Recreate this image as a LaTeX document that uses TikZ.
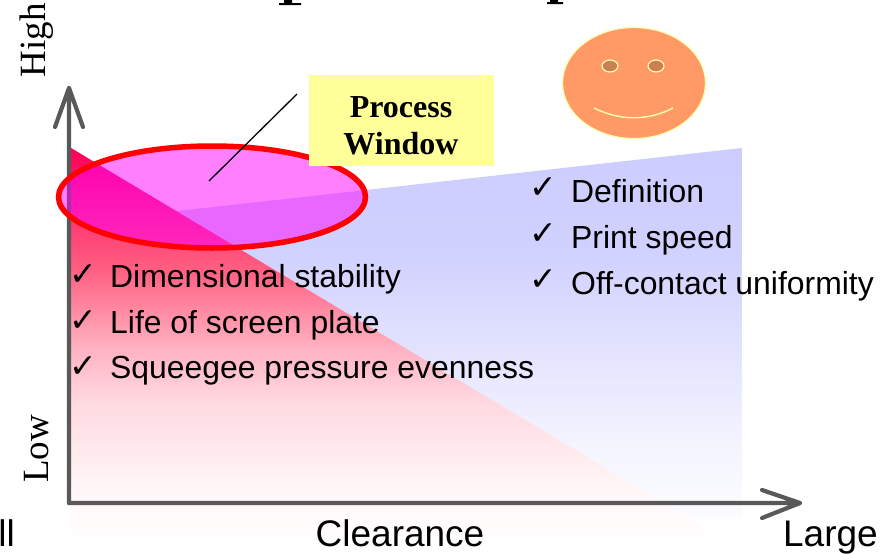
\documentclass[tikz,border=0pt]{standalone}
\usepackage{fontspec}
\setmainfont{Liberation Sans}
\newfontfamily\timesf{Liberation Serif}
\newfontfamily\checkf{DejaVu Sans}
\usetikzlibrary{shapes.geometric}
\definecolor{axisgray}{HTML}{595959}
\definecolor{calloutyellow}{HTML}{FFFF99}
\definecolor{faceorange}{HTML}{FF9966}
\definecolor{eyebrown}{HTML}{CC7F50}
\definecolor{faceedge}{HTML}{FFFFB0}
\definecolor{windowfill}{HTML}{FF00FF}
\definecolor{windowedge}{HTML}{FF0000}
\pgfdeclareverticalshading{redfade}{100bp}{
  color(0bp)=(white); color(25bp)=(white);
  color(33.2bp)=(rgb,255:red,255;green,244;blue,245);
  color(43.3bp)=(rgb,255:red,255;green,216;blue,224);
  color(50bp)=(rgb,255:red,255;green,176;blue,192);
  color(59.6bp)=(rgb,255:red,255;green,96;blue,130);
  color(75bp)=(rgb,255:red,255;green,0;blue,90);
  color(100bp)=(rgb,255:red,255;green,0;blue,90)}
\pgfdeclareverticalshading{bluefade}{100bp}{
  color(0bp)=(rgb,255:red,252;green,252;blue,255); color(25bp)=(rgb,255:red,252;green,252;blue,255);
  color(35bp)=(rgb,255:red,244;green,244;blue,255);
  color(60bp)=(rgb,255:red,210;green,210;blue,255);
  color(75bp)=(rgb,255:red,204;green,204;blue,255);
  color(100bp)=(rgb,255:red,204;green,204;blue,255)}
\tikzset{
  x=1pt,y=-1pt,
  axisline/.style={draw=axisgray,line width=4.2pt,line cap=round,line join=round},
  bigsans/.style={font=\fontsize{37}{40}\selectfont,inner sep=0pt},
  itemtext/.style={font=\fontsize{31.9}{36}\selectfont,anchor=west,inner sep=0pt},
  checkmark/.style={font=\checkf\fontsize{33}{38}\selectfont,inner sep=0pt},
  axislabel/.style={font=\timesf\fontsize{37}{40}\selectfont,rotate=90,inner sep=0pt},
  eye/.style={ellipse,draw=faceedge,fill=eyebrown,line width=1.2pt,minimum width=16pt,minimum height=12pt,inner sep=0pt},
}
\begin{document}
\begin{tikzpicture}
\useasboundingbox (0,0) rectangle (886,554);
\fill[white] (0,0) rectangle (886,554);
% cropped title descenders
\fill[black] (284,0) rectangle (292,4) (279,3) rectangle (301,5);
\fill[black] (550,0) rectangle (558,3) (547,2) rectangle (563,4);
% blue and red regions
\shade[shading=bluefade] (100,219.7) -- (742,148) -- (742,518) -- (100,518) -- cycle;
\shade[shading=redfade] (71,148) -- (71,545) -- (734,545) -- cycle;
% axes
\coordinate (origin) at (69,503);
\coordinate (ytip) at (69,88);
\coordinate (xtip) at (800,503);
\draw[axisline] (origin) -- (ytip) (55,127) -- (ytip) -- (83,127);
\draw[axisline] (origin) -- (xtip) (762,490) -- (xtip) -- (762,518);
% window ellipse
\node[ellipse,draw=windowedge,line width=5.5pt,fill=windowfill,fill opacity=0.5,draw opacity=1,minimum width=307pt,minimum height=102pt,inner sep=0pt,outer sep=0pt] (window) at (212,197) {};
% callout
\node[fill=calloutyellow,minimum width=185pt,minimum height=91pt,inner sep=0pt] (callout) at (401.5,120.5) {};
\node[inner sep=0pt,align=center,font=\timesf\bfseries\fontsize{32}{37}\selectfont] (calloutlabel) at (401,125.5) {Process\\Window};
\coordinate (leadstart) at (297,94);
\coordinate (leadend) at (209,181);
\draw[black,line width=1.3pt] (leadstart) -- (leadend);
% smiley
\node[ellipse,draw=faceedge,fill=faceorange,line width=1.2pt,minimum width=143pt,minimum height=111pt,inner sep=0pt] (face) at (634,83) {};
\node[eye] (eyeL) at (610,66) {};
\node[eye] (eyeR) at (656,66) {};
\draw[faceedge,line width=1.4pt] (594,108) .. controls (620,121) and (648,121) .. (673,108);
% lists
\node[checkmark] (c1) at (83,275) {✓};
\node[checkmark] (c2) at (83,321) {✓};
\node[checkmark] (c3) at (83,367) {✓};
\node[itemtext] (t1) at (110,279) {Dimensional stability};
\node[itemtext] (t2) at (110,325) {Life of screen plate};
\node[itemtext] (t3) at (110,371) {Squeegee pressure evenness};
\node[checkmark] (c4) at (543.5,188) {✓};
\node[checkmark] (c5) at (543.5,234) {✓};
\node[checkmark] (c6) at (543.5,280) {✓};
\node[itemtext] (t4) at (571,191) {Definition};
\node[itemtext] (t5) at (571,240) {Print speed};
\node[itemtext] (t6) at (571,286) {Off-contact uniformity};
% axis labels
\node[axislabel] (high) at (37,40) {High};
\node[axislabel] (low) at (37,449) {Low};
\node[bigsans] (clearance) at (400,533) {Clearance};
\node[bigsans,anchor=base east] (small) at (15,546) {ll};
\node[bigsans,anchor=base east] (large) at (878,546) {Large};
\end{tikzpicture}
\end{document}
